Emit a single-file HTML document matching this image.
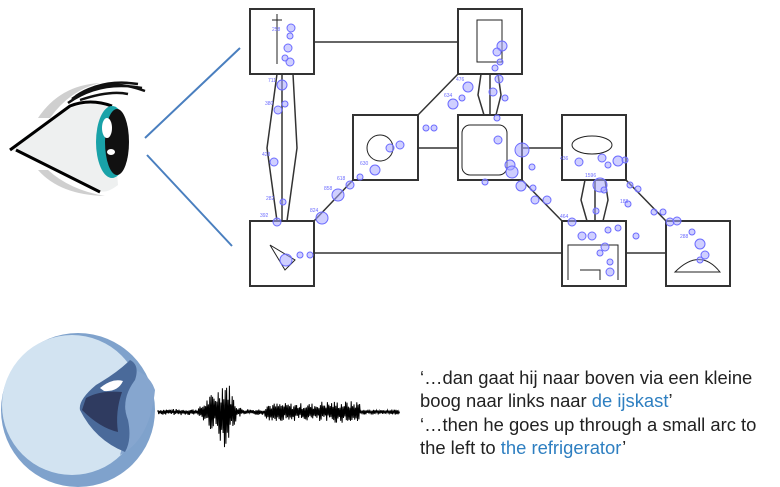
<!DOCTYPE html>
<html><head><meta charset="utf-8"><style>
body{margin:0;background:#fff;width:780px;height:487px;overflow:hidden;position:relative;font-family:"Liberation Sans",sans-serif}
.t{position:absolute;left:420px;font-size:18.4px;color:#222;line-height:24px;white-space:nowrap}
.b{color:#2e7fc1}
</style></head><body>
<svg width="780" height="487" style="position:absolute;left:0;top:0">
<!-- eye -->
<path d="M145,138 L240,48 M147,155 L232,246" stroke="#4a7fbf" stroke-width="2" fill="none"/>
<path d="M38,118 Q60,85 100,83 Q70,90 50,118Z M38,170 Q60,195 105,196 Q70,190 48,170Z" fill="#cfcfcf"/>
<path d="M12,150 L70,108 Q95,100 112,108 L118,185 Q105,195 98,190 Z" fill="#eef0f0"/>
<path d="M10,150 L70,106 Q90,98 112,106" stroke="#000" stroke-width="3" fill="none"/>
<path d="M16,150 L100,192" stroke="#000" stroke-width="3" fill="none"/>
<path d="M68,103 Q100,80 142,88 M72,99 Q100,78 138,84 M76,96 Q105,76 145,91 M80,100 Q110,90 128,94" stroke="#111" stroke-width="2.5" fill="none"/>
<ellipse cx="112" cy="142" rx="16" ry="36" fill="#19a2a8"/>
<ellipse cx="117" cy="142" rx="12" ry="33" fill="#111"/>
<ellipse cx="107" cy="128" rx="5" ry="10" fill="#fff"/>
<ellipse cx="111" cy="152" rx="4" ry="3" fill="#fff"/>
<!-- boxes -->
<g stroke="#333" stroke-width="2" fill="#fff">
<rect x="250" y="9" width="64" height="65"/><rect x="250" y="221" width="64" height="65"/>
<rect x="353" y="115" width="65" height="65"/><rect x="458" y="9" width="64" height="65"/>
<rect x="458" y="115" width="64" height="65"/><rect x="562" y="115" width="64" height="65"/>
<rect x="562" y="221" width="64" height="65"/><rect x="666" y="221" width="64" height="65"/>
</g>
<g stroke="#333" stroke-width="1.5" fill="none">
<path d="M314,42H458M314,253H562M626,253H666M418,148H458M522,148H562M418,115L458,74M314,221L353,180M522,180L562,221M626,180L666,221"/>
<path d="M277,74L267,148L277,221M293,74L297,148L287,221M282,74V221"/>
<path d="M481,74L478,95L484,115M498,74L501,95L496,115M490,74V115"/>
<path d="M585,180L581,200L587,221M605,180L608,200L603,221M595,180V221"/>
</g>
<g stroke="#222" stroke-width="1" fill="none">
<rect x="477" y="20" width="25" height="42"/><path d="M277,14v50M272,20h10"/>
<path d="M270,245l15,25l10,-10z"/><circle cx="380" cy="148" r="13"/>
<rect x="462" y="125" width="45" height="50" rx="8"/><ellipse cx="592" cy="145" rx="20" ry="9"/>
<path d="M568,280v-35h50v35M580,270h20v10"/><path d="M675,272q25,-25 45,0z"/>
</g>
<g fill="#a8a8ff" fill-opacity="0.55" stroke="#6b6bff" stroke-width="1">
<circle cx="291" cy="28" r="4"/><circle cx="290" cy="36" r="3"/><circle cx="288" cy="48" r="4"/><circle cx="290" cy="62" r="4"/><circle cx="285" cy="58" r="3"/><circle cx="282" cy="85" r="5"/><circle cx="278" cy="110" r="4"/><circle cx="285" cy="104" r="3"/><circle cx="274" cy="162" r="4"/><circle cx="283" cy="202" r="3"/><circle cx="277" cy="222" r="4"/><circle cx="286" cy="260" r="6"/><circle cx="300" cy="255" r="3"/><circle cx="310" cy="255" r="3"/>
<circle cx="322" cy="218" r="6"/><circle cx="338" cy="195" r="6"/><circle cx="350" cy="185" r="4"/><circle cx="375" cy="170" r="5"/><circle cx="360" cy="177" r="3"/><circle cx="400" cy="145" r="4"/><circle cx="390" cy="148" r="4"/>
<circle cx="426" cy="128" r="3"/><circle cx="434" cy="128" r="3"/><circle cx="468" cy="87" r="5"/><circle cx="453" cy="104" r="5"/><circle cx="462" cy="98" r="3"/>
<circle cx="502" cy="46" r="5"/><circle cx="497" cy="52" r="4"/><circle cx="500" cy="62" r="3"/><circle cx="495" cy="68" r="3"/><circle cx="499" cy="79" r="4"/><circle cx="493" cy="92" r="4"/><circle cx="505" cy="98" r="3"/><circle cx="497" cy="118" r="3"/>
<circle cx="498" cy="140" r="4"/><circle cx="522" cy="150" r="7"/><circle cx="510" cy="165" r="5"/><circle cx="512" cy="172" r="6"/><circle cx="485" cy="182" r="3"/><circle cx="521" cy="186" r="5"/><circle cx="535" cy="200" r="4"/><circle cx="547" cy="200" r="4"/><circle cx="533" cy="188" r="3"/><circle cx="532" cy="167" r="3"/>
<circle cx="579" cy="162" r="4"/><circle cx="602" cy="158" r="4"/><circle cx="608" cy="165" r="3"/><circle cx="618" cy="161" r="5"/><circle cx="625" cy="160" r="3"/><circle cx="600" cy="185" r="7"/><circle cx="604" cy="190" r="3"/><circle cx="630" cy="185" r="3"/><circle cx="638" cy="189" r="3"/><circle cx="628" cy="204" r="3"/><circle cx="596" cy="211" r="3"/><circle cx="654" cy="212" r="3"/><circle cx="663" cy="212" r="3"/><circle cx="670" cy="222" r="4"/><circle cx="677" cy="221" r="4"/><circle cx="636" cy="236" r="3"/>
<circle cx="572" cy="222" r="4"/><circle cx="582" cy="236" r="4"/><circle cx="592" cy="236" r="4"/><circle cx="608" cy="230" r="3"/><circle cx="618" cy="228" r="3"/><circle cx="605" cy="247" r="4"/><circle cx="600" cy="253" r="3"/><circle cx="610" cy="262" r="3"/><circle cx="610" cy="272" r="4"/>
<circle cx="692" cy="232" r="3"/><circle cx="700" cy="244" r="5"/><circle cx="705" cy="255" r="4"/><circle cx="700" cy="260" r="3"/>
</g>
<g fill="#6b6bff" font-size="5" font-family="Liberation Sans"><text x="272" y="31">258</text><text x="268" y="82">711</text><text x="265" y="105">380</text><text x="262" y="156">428</text><text x="266" y="200">282</text><text x="260" y="217">392</text><text x="310" y="212">824</text><text x="324" y="190">858</text><text x="337" y="180">618</text><text x="360" y="165">630</text><text x="456" y="81">476</text><text x="444" y="97">634</text><text x="585" y="177">1596</text><text x="620" y="203">188</text><text x="560" y="160">436</text><text x="680" y="238">288</text><text x="560" y="218">464</text></g>
<!-- mouth -->
<circle cx="78" cy="410" r="77" fill="#7fa2cc"/>
<ellipse cx="72" cy="405" rx="70" ry="70" fill="#d2e3f1"/>
<path d="M155,390 Q150,440 120,455 Q128,430 125,405 Q122,385 135,370 Q150,375 155,390Z" fill="#86a6cf"/>
<path d="M130,360 Q118,372 96,385 Q78,400 80,410 Q95,440 125,452 Q132,440 128,420 Q120,400 135,380 Q140,365 130,360Z" fill="#4a6a9a"/>
<path d="M86,398 Q100,390 122,392 Q115,412 118,432 Q100,428 82,410Z" fill="#2f3b60"/>
<path d="M100,388 Q112,378 123,381 Q118,392 104,391Z" fill="#fff"/>
<path id="w" d="" stroke="#000" stroke-width="1" fill="none"/>
</svg>
<div class="t" style="top:366px">‘…dan gaat hij naar boven via een kleine</div>
<div class="t" style="top:389px">boog naar links naar <span class="b">de ijskast</span>’</div>
<div class="t" style="top:413px">‘…then he goes up through a small arc to</div>
<div class="t" style="top:436px">the left to <span class="b">the refrigerator</span>’</div>
<script>
var d="M158,412",s=7;
function r(){s=(s*9301+49297)%233280;return s/233280;}
for(var x=158;x<400;x+=0.7){
 var a=3;
 a+=32*Math.exp(-Math.pow((x-225)/9,2))+12*Math.exp(-Math.pow((x-210)/8,2));
 if(x>265&&x<318)a=9;
 if(x>318&&x<360)a=11;
 if(x>360)a=2.5;
 var y=412+(Math.round(x/0.7)%2?1:-1)*a*(0.3+0.7*r());
 d+=" L"+x.toFixed(1)+","+y.toFixed(1);
}
document.getElementById("w").setAttribute("d",d);
</script>
</body></html>
